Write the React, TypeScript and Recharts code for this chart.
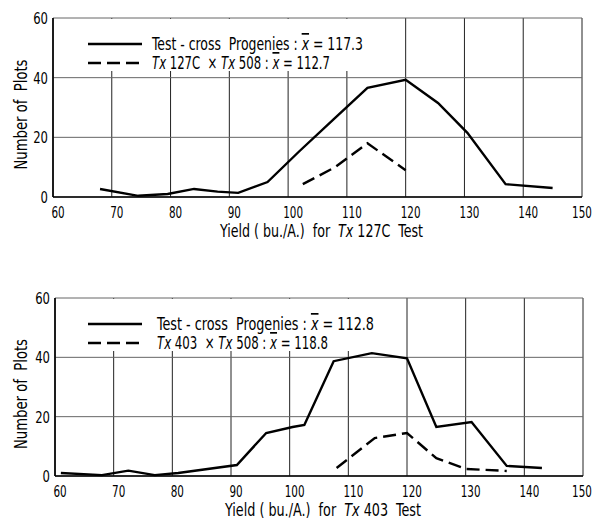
import React from 'react';
import { LineChart, Line, XAxis, YAxis, CartesianGrid, Legend, Label } from 'recharts';

const FONT = "'DejaVu Sans Condensed', 'DejaVu Sans', sans-serif";

const X_TICKS = [60, 70, 80, 90, 100, 110, 120, 130, 140, 150];
const Y_TICKS = [0, 20, 40, 60];

// Tx 127C test: test-cross progenies
const A_CROSS_X = [68, 74.5, 79.5, 84, 88, 91.5, 96.5, 102, 108, 113.5, 120, 125.5, 130.5, 137, 145];
const A_CROSS_Y = [2.7, 0.4, 1, 2.7, 1.8, 1.4, 5, 15.5, 26.5, 36.6, 39.3, 31.5, 21.5, 4.3, 3];
// Tx 127C x Tx 508
const A_PARENT_X = [102.5, 108, 113.5, 120];
const A_PARENT_Y = [4.3, 10, 18, 9];

// Tx 403 test: test-cross progenies
const B_CROSS_X = [61, 68, 72.5, 77, 81, 91, 96, 100.5, 102.5, 107.5, 114, 120, 125, 131, 137, 143];
const B_CROSS_Y = [1, 0.3, 1.8, 0.3, 1, 3.7, 14.5, 16.5, 17.2, 38.7, 41.4, 39.7, 16.5, 18.2, 3.4, 2.7];
// Tx 403 x Tx 508
const B_PARENT_X = [108, 114.5, 120, 125, 130, 137];
const B_PARENT_Y = [2.7, 12.8, 14.5, 6, 2.4, 1.7];

const zip = (xs: number[], ys: number[]) => xs.map((x, i) => ({ x, y: ys[i] }));

const DASH = '13 6';

interface LegendProps {
  tester: string;
  crossMean: string;
  parentMean: string;
  textX: number;
  w1: number;
  w2: number;
}

// legend drawn in svg so text widths can be pinned with textLength
function LegendBox({ tester, crossMean, parentMean, textX, w1, w2 }: LegendProps) {
  const W = textX + Math.max(w1, w2) + 6;
  const H = 52;
  const xbar = (
    <tspan fontStyle="italic" style={{ textDecoration: 'overline' }}>
      x
    </tspan>
  );
  return (
    <div style={{ background: '#fff', width: W, height: H }}>
      <svg width={W} height={H + 6} style={{ display: 'block', overflow: 'visible' }}>
        <line x1={26} x2={80} y1={25} y2={25} stroke="#000" strokeWidth={2.4} />
        <line x1={26} x2={80} y1={44} y2={44} stroke="#000" strokeWidth={2.4} strokeDasharray={DASH} />
        <text
          x={textX}
          y={31}
          fontFamily={FONT}
          fontSize={17}
          fill="#000"
          textLength={w1}
          lengthAdjust="spacingAndGlyphs"
          xmlSpace="preserve"
        >
          Test - cross  Progenies : {xbar} = {crossMean}
        </text>
        <text
          x={textX}
          y={50}
          fontFamily={FONT}
          fontSize={17}
          fill="#000"
          textLength={w2}
          lengthAdjust="spacingAndGlyphs"
          xmlSpace="preserve"
        >
          <tspan fontStyle="italic">Tx</tspan> {tester}  × <tspan fontStyle="italic">Tx</tspan> 508 : {xbar} = {parentMean}
        </text>
      </svg>
    </div>
  );
}

interface PanelProps {
  height: number;
  plotLeft: number;
  plotRight: number;
  plotTop: number;
  plotBottom: number;
  cross: { x: number; y: number }[];
  parent: { x: number; y: number }[];
  tester: string;
  crossMean: string;
  parentMean: string;
  legendTextX: number;
  legendW1: number;
  legendW2: number;
  xLabelW: number;
}

function Panel(p: PanelProps) {
  const W = 594;
  const yAxisW = 40;
  const xAxisH = 40;
  const plotCx = (p.plotLeft + p.plotRight) / 2;

  const XTick = (t: any) => {
    const v = t.payload.value;
    const s = String(v);
    // last label sits on the frame corner, the others a bit to the right of the grid line
    const dx = v === 150 ? 0 : 5;
    return (
      <text
        x={t.x + dx}
        y={p.plotBottom + 21}
        textAnchor="middle"
        fontFamily={FONT}
        fontSize={16}
        fill="#000"
        textLength={s.length * 6.6}
        lengthAdjust="spacingAndGlyphs"
      >
        {s}
      </text>
    );
  };

  const YTick = (t: any) => {
    const s = String(t.payload.value);
    return (
      <text
        x={p.plotLeft - 5}
        y={t.y + 6}
        textAnchor="end"
        fontFamily={FONT}
        fontSize={16}
        fill="#000"
        textLength={s.length * 7.4}
        lengthAdjust="spacingAndGlyphs"
      >
        {s}
      </text>
    );
  };

  return (
    <LineChart
      width={W}
      height={p.height}
      margin={{
        top: p.plotTop,
        left: p.plotLeft - yAxisW,
        right: W - p.plotRight,
        bottom: p.height - p.plotBottom - xAxisH,
      }}
    >
      <CartesianGrid horizontal={false} stroke="#222" strokeWidth={1} />
      <CartesianGrid vertical={false} stroke="#666" strokeWidth={1} />
      <XAxis
        type="number"
        dataKey="x"
        domain={[60, 150]}
        ticks={X_TICKS}
        allowDataOverflow
        height={xAxisH}
        tickLine={false}
        tick={XTick}
        axisLine={{ stroke: '#000', strokeWidth: 1.6 }}
      >
        <Label
          content={() => (
            <text
              x={plotCx + 4}
              y={p.plotBottom + 40}
              textAnchor="middle"
              fontFamily={FONT}
              fontSize={17}
              fill="#000"
              textLength={p.xLabelW}
              lengthAdjust="spacingAndGlyphs"
              xmlSpace="preserve"
            >
              Yield ( bu./A.)  for  <tspan fontStyle="italic">Tx</tspan> {p.tester}  Test
            </text>
          )}
        />
      </XAxis>
      <XAxis
        xAxisId="top"
        orientation="top"
        type="number"
        dataKey="x"
        domain={[60, 150]}
        ticks={X_TICKS}
        height={0}
        tick={false}
        tickLine={false}
        axisLine={{ stroke: '#000', strokeWidth: 1.6 }}
      />
      <YAxis
        type="number"
        domain={[0, 60]}
        ticks={Y_TICKS}
        width={yAxisW}
        tickLine={false}
        tick={YTick}
        axisLine={{ stroke: '#000', strokeWidth: 1.6 }}
      >
        <Label
          content={() => {
            const cy = (p.plotTop + p.plotBottom) / 2 + 7;
            return (
              <text
                x={27}
                y={cy}
                transform={`rotate(-90 27 ${cy})`}
                textAnchor="middle"
                fontFamily={FONT}
                fontSize={17}
                fill="#000"
                textLength={110}
                lengthAdjust="spacingAndGlyphs"
                xmlSpace="preserve"
              >
                Number of  Plots
              </text>
            );
          }}
        />
      </YAxis>
      <YAxis
        yAxisId="right"
        orientation="right"
        type="number"
        domain={[0, 60]}
        ticks={Y_TICKS}
        width={0}
        tick={false}
        tickLine={false}
        axisLine={{ stroke: '#000', strokeWidth: 1.6 }}
      />
      <Legend
        layout="vertical"
        align="center"
        verticalAlign="middle"
        wrapperStyle={{ left: 62, top: p.plotTop + 1, width: 'auto' }}
        content={() => (
          <LegendBox
            tester={p.tester}
            crossMean={p.crossMean}
            parentMean={p.parentMean}
            textX={p.legendTextX}
            w1={p.legendW1}
            w2={p.legendW2}
          />
        )}
      />
      <Line
        data={p.cross}
        dataKey="y"
        type="linear"
        stroke="#000"
        strokeWidth={2.4}
        dot={false}
        isAnimationActive={false}
      />
      <Line
        data={p.parent}
        dataKey="y"
        type="linear"
        stroke="#000"
        strokeWidth={2.4}
        strokeDasharray={DASH}
        dot={false}
        isAnimationActive={false}
      />
    </LineChart>
  );
}

export default function App() {
  return (
    <div style={{ position: 'absolute', left: 0, top: 0, width: 594, height: 521, background: '#fff' }}>
      <Panel
        height={280}
        plotLeft={53}
        plotRight={582}
        plotTop={18}
        plotBottom={197}
        cross={zip(A_CROSS_X, A_CROSS_Y)}
        parent={zip(A_PARENT_X, A_PARENT_Y)}
        tester="127C"
        crossMean="117.3"
        parentMean="112.7"
        legendTextX={90}
        legendW1={211}
        legendW2={178}
        xLabelW={203}
      />
      <Panel
        height={241}
        plotLeft={55}
        plotRight={583}
        plotTop={18}
        plotBottom={196}
        cross={zip(B_CROSS_X, B_CROSS_Y)}
        parent={zip(B_PARENT_X, B_PARENT_Y)}
        tester="403"
        crossMean="112.8"
        parentMean="118.8"
        legendTextX={95}
        legendW1={217}
        legendW2={171}
        xLabelW={196}
      />
    </div>
  );
}
